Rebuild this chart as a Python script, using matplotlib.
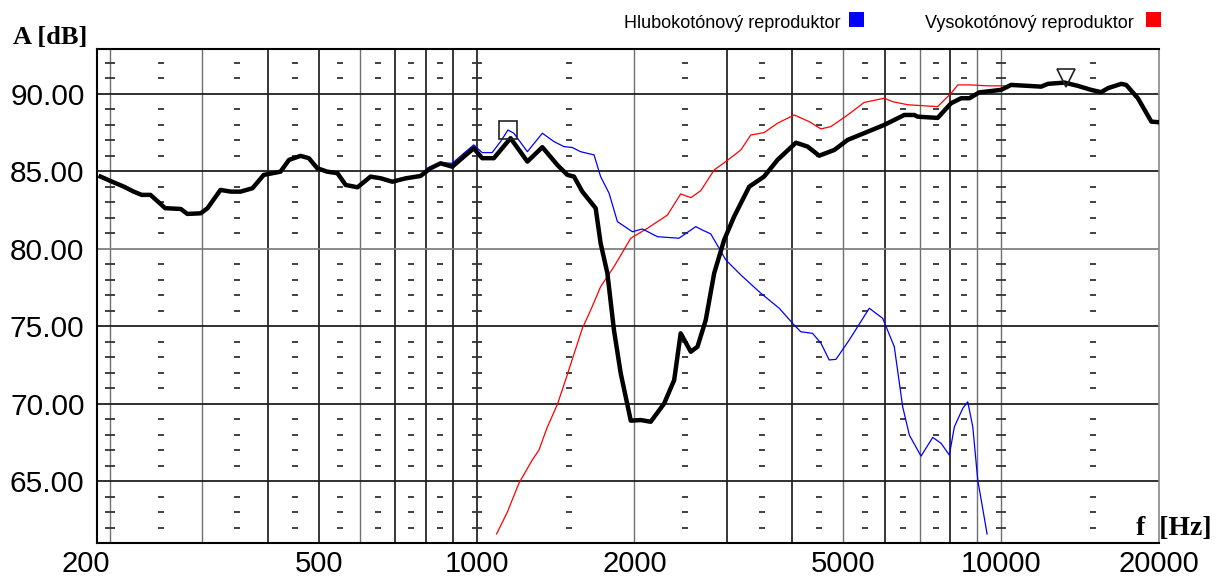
import numpy as np
import matplotlib as mpl
import matplotlib.pyplot as plt
from matplotlib.patches import Rectangle

mpl.rcParams.update({'font.family': 'Liberation Sans'})

# total response (thick black)
f_total = [192, 202, 213, 222, 230, 239, 255, 273, 281, 298, 307, 325, 340, 355, 374, 393,
           423, 439, 462, 479, 497, 519, 543, 563, 593, 628, 657, 691, 733, 782, 817, 854,
           899, 946, 988, 1025, 1079, 1161, 1250, 1335, 1426, 1490, 1534, 1591, 1687, 1724,
           1776, 1828, 1883, 1968, 2056, 2148, 2278, 2381, 2450, 2561, 2638, 2735, 2838,
           2965, 3097, 3310, 3533, 3748, 4063, 4276, 4500, 4808, 5099, 5568, 5989, 6539,
           6832, 6934, 7570, 8030, 8389, 8700, 9090, 10000, 10447, 11245, 11925, 12280,
           13210, 14005, 14850, 15520, 15980, 16950, 17320, 18230, 19340, 20000]
a_total = [84.66, 84.33, 84.0, 83.69, 83.48, 83.48, 82.62, 82.57, 82.25, 82.29, 82.62, 83.8,
           83.69, 83.69, 83.91, 84.77, 84.98, 85.74, 86.0, 85.85, 85.2, 84.98, 84.88, 84.12,
           83.97, 84.66, 84.55, 84.33, 84.55, 84.7, 85.2, 85.52, 85.3, 85.95, 86.49, 85.85,
           85.85, 87.14, 85.63, 86.56, 85.41, 84.77, 84.66, 83.69, 82.62, 80.36, 78.42, 74.75,
           71.96, 68.9, 68.94, 68.83, 70.0, 71.52, 74.54, 73.35, 73.68, 75.4, 78.42, 80.57,
           82.07, 84.01, 84.66, 85.74, 86.85, 86.6, 86.01, 86.38, 87.03, 87.56, 88.0, 88.64,
           88.64, 88.53, 88.45, 89.4, 89.72, 89.72, 90.1, 90.26, 90.58, 90.52, 90.47, 90.65,
           90.73, 90.52, 90.26, 90.11, 90.37, 90.65, 90.58, 89.72, 88.21, 88.17]

# woofer (blue)
f_low = [782, 805, 854, 899, 946, 988, 1025, 1071, 1111, 1148, 1178, 1250, 1335, 1405, 1467,
         1522, 1579, 1675, 1724, 1789, 1856, 1982, 2071, 2212, 2432, 2618, 2695, 2796, 2987,
         3190, 3483, 3776, 4020, 4152, 4371, 4535, 4703, 4844, 5135, 5607, 5946, 6257, 6492,
         6685, 7036, 7408, 7683, 7968, 8147, 8452, 8638, 8831, 9027, 9404]
a_low = [84.75, 85.2, 85.56, 85.52, 86.17, 86.71, 86.21, 86.21, 86.92, 87.67, 87.46, 86.27,
         87.46, 86.92, 86.6, 86.54, 86.27, 86.06, 84.66, 83.59, 81.75, 81.1, 81.28, 80.78,
         80.68, 81.43, 81.21, 80.96, 79.28, 78.31, 77.13, 76.16, 75.12, 74.64, 74.54, 73.9,
         72.82, 72.86, 74.11, 76.16, 75.51, 73.68, 69.8, 67.97, 66.61, 67.82, 67.44, 66.68,
         68.51, 69.7, 70.12, 68.51, 65.06, 61.58]

# tweeter (red)
f_high = [1092, 1145, 1204, 1277, 1315, 1365, 1426, 1478, 1591, 1651, 1724, 1828, 1968, 2117,
          2312, 2450, 2561, 2676, 2838, 2987, 3190, 3334, 3533, 3748, 4033, 4307, 4535, 4738,
          5099, 5483, 5989, 6214, 6636, 7570, 8030, 8268, 8750, 9430, 10147]
a_high = [61.58, 63.0, 64.85, 66.36, 67.0, 68.5, 69.95, 71.52, 74.86, 76.05, 77.55, 78.84,
          80.68, 81.32, 82.18, 83.54, 83.3, 83.75, 85.09, 85.63, 86.38, 87.35, 87.5, 88.11,
          88.64, 88.21, 87.74, 87.89, 88.64, 89.45, 89.72, 89.5, 89.3, 89.18, 90.04, 90.58,
          90.58, 90.52, 90.52]

x_ticks = [200, 500, 1000, 2000, 5000, 10000, 20000]
y_ticks = [65, 70, 75, 80, 85, 90]
dark_cols = [400, 500, 700, 800, 900, 1000, 3000, 4000, 6000, 8000]
light_cols = [200, 300, 600, 2000, 5000, 7000, 9000, 10000]
dash_cols = [250, 350, 450, 550, 650, 750, 850, 1500, 2500, 3500, 4500, 5500, 6500, 7500,
             8500, 15000]
tick_cols = [200, 1000, 10000]

W, H = 1223, 578
fig = plt.figure(figsize=(W / 100, H / 100), dpi=100)
ax = fig.add_axes([97 / W, 1 - 543 / H, (1159 - 97) / W, (543 - 49) / H])
ax.set_xscale('log')
ax.set_xlim(189, 20000)
ax.set_ylim(61.0, 92.9)

for c in dark_cols:
    ax.axvline(c, color='black', lw=1.1, zorder=1)
for c in light_cols:
    ax.axvline(c, color='#707070', lw=1.0, zorder=1)
for v in y_ticks:
    ax.axhline(v, color='#202020' if v != 80 else '#808080', lw=1.3, zorder=1)

rows = [r for r in range(62, 93) if r % 5 != 0]
for c in dash_cols:
    ax.plot([c] * len(rows), rows, ls='none', marker='_', ms=4, mew=1.3, color='#333333', zorder=1)
for c in tick_cols:
    ax.plot([c] * len(rows), rows, ls='none', marker='_', ms=7, mew=1.3, color='#333333', zorder=1)

ax.plot(f_high, a_high, color='red', lw=0.9, zorder=3)
ax.plot(f_low, a_low, color='blue', lw=0.9, zorder=3)
ax.plot(f_total, a_total, color='black', lw=3.2, zorder=4, solid_joinstyle='round')

# markers
ax.plot([1146], [87.7], marker='s', ms=13, mfc='none', mec='#222222', mew=1.2, zorder=5)
ax.plot([13300], [91.0], marker='v', ms=13, mfc='none', mec='#222222', mew=1.2, zorder=5)

ax.set_xticks(x_ticks)
ax.set_xticklabels([str(t) for t in x_ticks])
ax.xaxis.set_minor_locator(mpl.ticker.NullLocator())
ax.set_yticks(y_ticks)
ax.set_yticklabels(['%.2f' % t for t in y_ticks])
ax.tick_params(axis='y', length=0, labelsize=21.5, pad=9)
ax.tick_params(axis='x', length=0, labelsize=21, pad=5)
ax.get_xticklabels()[0].set_ha('right')

for s in ['left', 'top', 'bottom']:
    ax.spines[s].set_linewidth(1.5)
    ax.spines[s].set_color('black')
ax.spines['right'].set_color('#888888')
ax.spines['right'].set_linewidth(1.2)

fig.text(13 / W, 1 - 44 / H, 'A [dB]', family='Liberation Serif', weight='bold', fontsize=19,
         ha='left', va='baseline')
fig.text(1212 / W, 1 - 535 / H, 'f  [Hz]', family='Liberation Serif', weight='bold', fontsize=20,
         ha='right', va='baseline')

fig.text(840 / W, 1 - 28 / H, 'Hlubokotónový reproduktor', fontsize=13, ha='right', va='baseline')
fig.text(1134 / W, 1 - 28 / H, 'Vysokotónový reproduktor', fontsize=13, ha='right', va='baseline')
fig.patches.append(Rectangle((849 / W, 1 - 27 / H), 15 / W, 15 / H, transform=fig.transFigure,
                             facecolor='blue', edgecolor='none'))
fig.patches.append(Rectangle((1146 / W, 1 - 27 / H), 15 / W, 15 / H, transform=fig.transFigure,
                             facecolor='red', edgecolor='none'))

plt.savefig('out.png', dpi=100)
